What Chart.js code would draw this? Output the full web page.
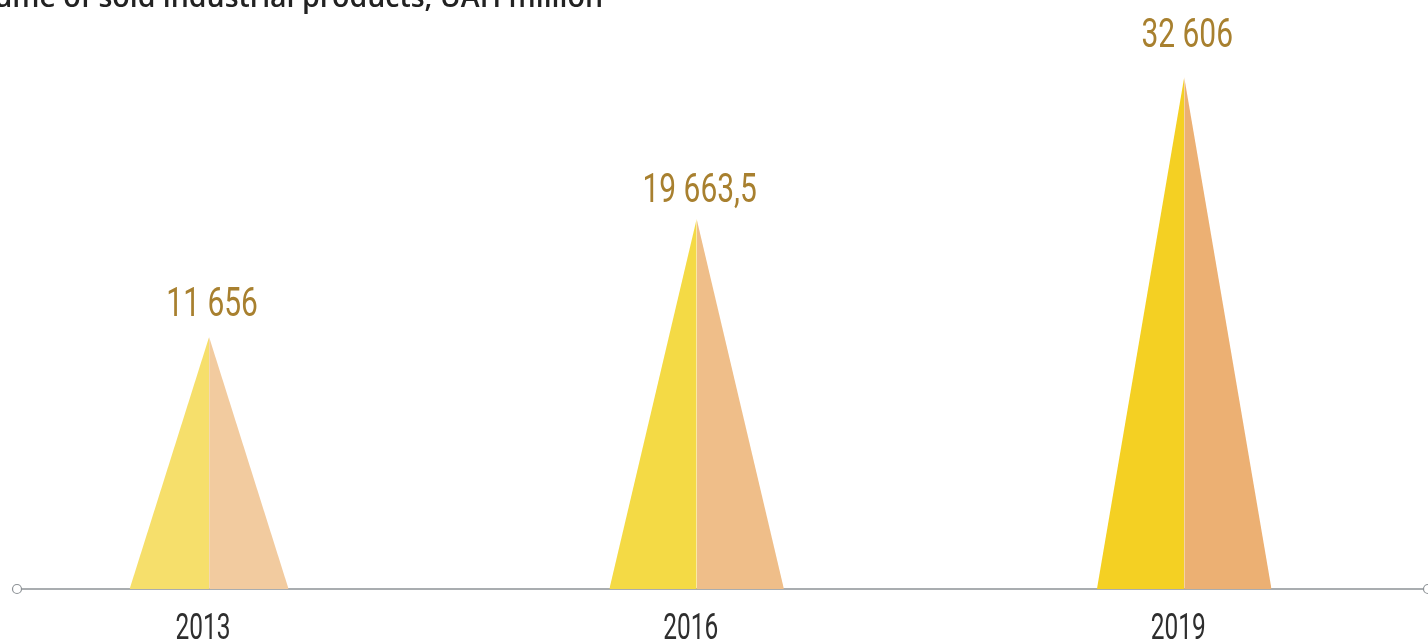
<!DOCTYPE html>
<html>
<head>
<meta charset="utf-8">
<script src="https://cdn.jsdelivr.net/npm/chart.js@4.4.1/dist/chart.umd.min.js"></script>
<style>
  html, body { margin: 0; padding: 0; background: #fff; }
  #wrap { width: 1428px; height: 643px; position: relative; }
</style>
</head>
<body>
<div id="wrap"><canvas id="peaks"></canvas></div>
<script>
// data
const years = ["2013", "2016", "2019"];
const values = [11656, 19663.5, 32606];
const valueLabels = ["11 656", "19 663,5", "32 606"];
// visual peak height (share of plot height, %) as drawn in the original
const peakLevels = [42.8, 62.8, 86.9];

const titleText = "Volume of sold industrial products, UAH million";

// styles
const leftColors = ["#F6DF6B", "#F4DA45", "#F4D023"];
const rightColors = ["#F2CB9F", "#EFBE89", "#ECB073"];
const halfWidths = [0.163, 0.179, 0.179];
const labelGaps = [21, 17, 30];
const xMin = -0.394, xMax = 2.5;

var datasets = [];
for (let i = 0; i < years.length; i++) {
    datasets.push({
        data: [{x: i - halfWidths[i], y: 0}, {x: i, y: peakLevels[i]}],
        fill: "origin",
        backgroundColor: leftColors[i],
        borderWidth: 0,
        pointRadius: 0,
        tension: 0
    });
    datasets.push({
        data: [{x: i, y: peakLevels[i]}, {x: i + halfWidths[i], y: 0}],
        fill: "origin",
        backgroundColor: rightColors[i],
        borderWidth: 0,
        pointRadius: 0,
        tension: 0
    });
}
// baseline with the small circles at both ends
datasets.push({
    data: [{x: xMin, y: 0}, {x: xMax, y: 0}],
    borderColor: "#8d9296",
    borderWidth: 1.5,
    pointRadius: 4.5,
    pointBackgroundColor: "#ffffff",
    pointBorderColor: "#8d9296",
    pointBorderWidth: 1.2,
    fill: false,
    clip: false
});

function squeezedText(ctx, text, x, y, font, color, sx) {
    ctx.save();
    ctx.font = font;
    ctx.fillStyle = color;
    ctx.textAlign = "center";
    ctx.textBaseline = "alphabetic";
    ctx.translate(x, y);
    ctx.scale(sx, 1);
    ctx.fillText(text, 0, 0);
    ctx.restore();
}

const labelsPlugin = {
    id: "peakLabels",
    afterDraw(chart) {
        const ctx = chart.ctx;
        const xs = chart.scales.x, ys = chart.scales.y;
        for (let i = 0; i < years.length; i++) {
            const px = xs.getPixelForValue(i);
            const py = ys.getPixelForValue(peakLevels[i]);
            squeezedText(ctx, valueLabels[i], px + 3, py - labelGaps[i], "400 41px Roboto", "#A8802F", 0.73);
            squeezedText(ctx, years[i], px - 6, ys.getPixelForValue(0) + 50, "400 36px Roboto", "#2e2e2e", 0.68);
        }
        ctx.save();
        ctx.font = "600 28.5px 'Open Sans'";
        ctx.fillStyle = "#222";
        ctx.textAlign = "right";
        ctx.textBaseline = "alphabetic";
        ctx.fillText(titleText, 603, 7);
        ctx.restore();
    }
};

new Chart(document.getElementById("peaks").getContext("2d"), {
    type: "line",
    data: { datasets: datasets },
    options: {
        responsive: true,
        maintainAspectRatio: false,
        animation: false,
        layout: { autoPadding: false, padding: { left: 17, right: 0, top: 0, bottom: 54 } },
        scales: {
            x: { type: "linear", min: xMin, max: xMax, display: false },
            y: { min: 0, max: 100, display: false }
        },
        plugins: {
            legend: { display: false },
            tooltip: { enabled: false }
        }
    },
    plugins: [labelsPlugin]
});
</script>
</body>
</html>
